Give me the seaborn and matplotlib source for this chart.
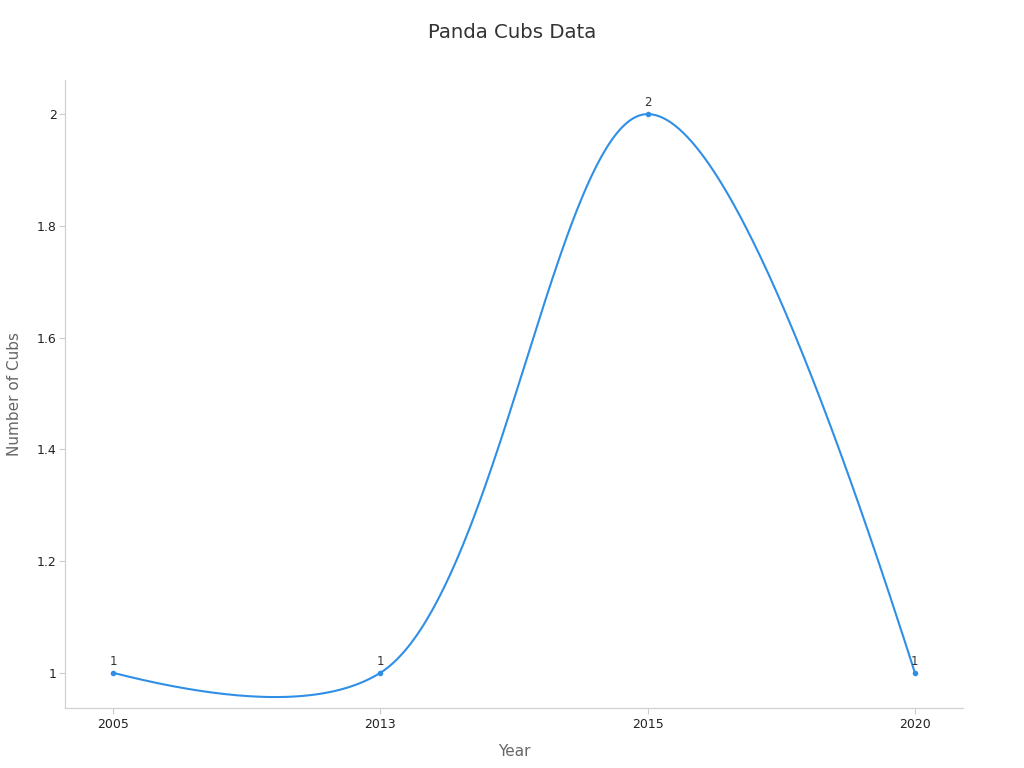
import numpy as np
import pandas as pd
import matplotlib
matplotlib.use("Agg")
import matplotlib.pyplot as plt
import seaborn as sns

years = ["2005", "2013", "2015", "2020"]
cubs = [1, 1, 2, 1]

LINE = "#2f8fe6"
SMOOTHNESS = 1.0
CR_EXP = 0.5

sns.set_theme(style="white")
plt.rcParams['font.family'] = ['DejaVu Sans']

fig = plt.figure(figsize=(10.24, 7.68), dpi=100)
ax = fig.add_axes([65/1024, 1-708/768, (963-65)/1024, (708-80)/768])

ax.set_xlim(-0.18, 3.18)
ax.set_ylim(0.937, 2.061)

xs = np.arange(len(years), dtype=float)
ys = np.array(cubs, dtype=float)
fig.canvas.draw()
pts = ax.transData.transform(np.column_stack([xs, ys]))


def make_tangent(prv, cur, nxt, smooth):
    d1 = prv - cur
    d2 = nxt - cur
    d1a = np.hypot(*d1) ** CR_EXP
    d2a = np.hypot(*d2) ** CR_EXP
    num = (d2a * d2a * d1 - d1a * d1a * d2) * smooth
    den1 = 3 * d2a * (d1a + d2a)
    den2 = 3 * d1a * (d1a + d2a)
    return cur + num / den1, cur - num / den2


n = len(pts)
tangents = [make_tangent(pts[i-1], pts[i], pts[i+1], SMOOTHNESS) for i in range(1, n-1)]
t = np.linspace(0, 1, 100)[:, None]
segs = []
P0, C, P1 = pts[0], tangents[0][0], pts[1]
segs.append((1-t)**2*P0 + 2*(1-t)*t*C + t**2*P1)
for i in range(2, n-1):
    P0, C1, C2, P3 = pts[i-1], tangents[i-2][1], tangents[i-1][0], pts[i]
    segs.append(((1-t)**3*P0 + 3*(1-t)**2*t*C1 + 3*(1-t)*t**2*C2 + t**3*P3)[1:])
P0, C, P1 = pts[n-2], tangents[n-3][1], pts[n-1]
segs.append(((1-t)**2*P0 + 2*(1-t)*t*C + t**2*P1)[1:])
curve = np.vstack(segs)
curve_data = ax.transData.inverted().transform(curve)
cdf = pd.DataFrame({"x": curve_data[:, 0], "y": curve_data[:, 1]})
sns.lineplot(data=cdf, x="x", y="y", sort=False, color=LINE, linewidth=1.5, ax=ax, estimator=None)

df = pd.DataFrame({"idx": xs, "cubs": ys})
sns.scatterplot(data=df, x="idx", y="cubs", color=LINE, s=16, edgecolor=LINE, linewidth=0, ax=ax, zorder=5)

for xi, yi in zip(xs, ys):
    ax.annotate(f"{yi:g}", (xi, yi), xytext=(0, 3.5), textcoords="offset points",
                ha="center", va="bottom", fontsize=8.5, color="#333333")

ax.set_xticks(xs)
ax.set_xticklabels(years)
yt = [1, 1.2, 1.4, 1.6, 1.8, 2]
ax.set_yticks(yt)
ax.set_yticklabels([f"{v:g}" for v in yt])
ax.tick_params(axis="both", labelsize=9, colors="#222222", length=4, width=0.8,
               color="#cccccc", bottom=True, left=True)
ax.tick_params(axis="x", pad=3)
ax.tick_params(axis="y", pad=2)

for s in ["top", "right"]:
    ax.spines[s].set_visible(False)
for s in ["left", "bottom"]:
    ax.spines[s].set_color("#d0d0d0")
    ax.spines[s].set_linewidth(0.9)

ax.set_xlabel("Year", fontsize=11, color="#666666", labelpad=9.5)
ax.set_ylabel("Number of Cubs", fontsize=11, color="#666666", labelpad=10.5)
fig.suptitle("Panda Cubs Data", y=1-33/768, va="center", fontsize=14.2, color="#333333")

fig.savefig("out.png", dpi=100)
